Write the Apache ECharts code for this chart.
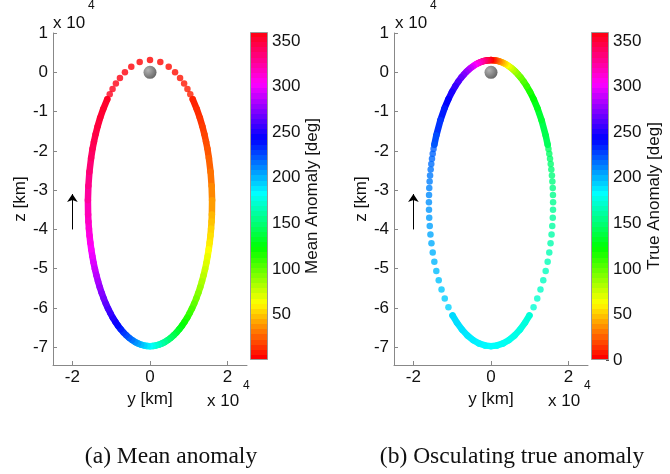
<!DOCTYPE html>
<html>
<head>
<meta charset="utf-8">
<script src="https://cdn.jsdelivr.net/npm/echarts@6/dist/echarts.min.js"></script>
<style>
html,body{margin:0;padding:0;background:#fff;}
#chart{width:670px;height:474px;}
</style>
</head>
<body>
<div id="chart"></div>
<script>
// ---- tick labels ----
const yTicks = [-7, -6, -5, -4, -3, -2, -1, 0, 1];
const xTicks = [-2, 0, 2];
const cbTicksMean = [50, 100, 150, 200, 250, 300, 350];
const cbTicksTrue = [0, 50, 100, 150, 200, 250, 300, 350];

// ---- positions in units of 1e4 km: [y, z, anomaly deg] ----
const earthPos = [[0, 0]];
const arrowPath = [[-2, -4], [-2, -3.1]];

// (a) mean anomaly: separated dots near perigee
const meanDots = [
  [0, 0.31, 0], [0.266, 0.259, 1], [0.482, 0.141, 2], [0.646, 0.000, 3], [0.775, -0.146, 4],
  [0.879, -0.288, 5], [0.965, -0.427, 6], [1.038, -0.560, 7], [1.101, -0.688, 8],
  [-0.266, 0.259, 359], [-0.482, 0.141, 358], [-0.646, 0.000, 357], [-0.775, -0.146, 356],
  [-0.879, -0.288, 355], [-0.965, -0.427, 354], [-1.038, -0.560, 353], [-1.101, -0.688, 352]
];
// (a) mean anomaly: dense (continuous) part of the track
const meanBand = [
  [1.101, -0.688, 8], [1.204, -0.932, 10], [1.284, -1.158, 12], [1.349, -1.373, 14], [1.401, -1.573, 16],
  [1.444, -1.764, 18], [1.480, -1.946, 20], [1.518, -2.182, 23], [1.561, -2.533, 27], [1.588, -2.891, 32],
  [1.600, -3.254, 37], [1.595, -3.618, 43], [1.587, -3.799, 46], [1.574, -3.979, 50], [1.558, -4.157, 53],
  [1.538, -4.333, 56], [1.514, -4.507, 60], [1.486, -4.678, 64], [1.455, -4.845, 68], [1.420, -5.008, 72],
  [1.381, -5.168, 76], [1.339, -5.322, 80], [1.294, -5.472, 84], [1.245, -5.617, 89], [1.193, -5.755, 93],
  [1.138, -5.888, 98], [1.081, -6.014, 103], [1.020, -6.134, 107], [0.958, -6.246, 112], [0.892, -6.351, 117],
  [0.825, -6.449, 122], [0.755, -6.539, 127], [0.684, -6.621, 133], [0.611, -6.694, 138], [0.536, -6.760, 143],
  [0.460, -6.816, 148], [0.383, -6.864, 154], [0.305, -6.903, 159], [0.226, -6.934, 165], [0.146, -6.955, 170],
  [0.067, -6.967, 175], [0, -6.970, 180],
  [-0.067, -6.967, 185], [-0.146, -6.955, 190], [-0.226, -6.934, 195], [-0.305, -6.903, 201], [-0.383, -6.864, 206],
  [-0.460, -6.816, 212], [-0.536, -6.760, 217], [-0.611, -6.694, 222], [-0.684, -6.621, 227], [-0.755, -6.539, 233],
  [-0.825, -6.449, 238], [-0.892, -6.351, 243], [-0.958, -6.246, 248], [-1.020, -6.134, 253], [-1.081, -6.014, 257],
  [-1.138, -5.888, 262], [-1.193, -5.755, 267], [-1.245, -5.617, 271], [-1.294, -5.472, 276], [-1.339, -5.322, 280],
  [-1.381, -5.168, 284], [-1.420, -5.008, 288], [-1.455, -4.845, 292], [-1.486, -4.678, 296], [-1.514, -4.507, 300],
  [-1.538, -4.333, 304], [-1.558, -4.157, 307], [-1.574, -3.979, 310], [-1.587, -3.799, 314], [-1.595, -3.618, 317],
  [-1.600, -3.254, 323], [-1.588, -2.891, 328], [-1.561, -2.533, 333], [-1.518, -2.182, 337], [-1.480, -1.946, 340],
  [-1.444, -1.764, 342], [-1.401, -1.573, 344], [-1.349, -1.373, 346], [-1.284, -1.158, 348], [-1.204, -0.932, 350],
  [-1.101, -0.688, 352]
];

// (b) osculating true anomaly: separated dots on both sides
const trueDots = [
  [0.991, -6.188, 170.9], [1.097, -5.980, 169.6], [1.192, -5.759, 168.3], [1.275, -5.530, 167.0], [1.347, -5.294, 165.7],
  [1.409, -5.057, 164.4], [1.460, -4.819, 163.1], [1.502, -4.584, 161.8], [1.535, -4.354, 160.5], [1.561, -4.129, 159.2],
  [1.579, -3.911, 157.9], [1.592, -3.701, 156.6], [1.598, -3.500, 155.3], [1.600, -3.307, 154.0], [1.597, -3.123, 152.7],
  [1.591, -2.948, 151.4], [1.582, -2.782, 150.1], [1.570, -2.624, 148.8], [1.555, -2.475, 147.5], [1.539, -2.334, 146.2],
  [1.521, -2.200, 144.9], [1.502, -2.074, 143.6], [1.481, -1.955, 142.3], [1.460, -1.842, 141.0],
  [-0.991, -6.188, 189.1], [-1.097, -5.980, 190.4], [-1.192, -5.759, 191.7], [-1.275, -5.530, 193.0], [-1.347, -5.294, 194.3],
  [-1.409, -5.057, 195.6], [-1.460, -4.819, 196.9], [-1.502, -4.584, 198.2], [-1.535, -4.354, 199.5], [-1.561, -4.129, 200.8],
  [-1.579, -3.911, 202.1], [-1.592, -3.701, 203.4], [-1.598, -3.500, 204.7], [-1.600, -3.307, 206.0], [-1.597, -3.123, 207.3],
  [-1.591, -2.948, 208.6], [-1.582, -2.782, 209.9], [-1.570, -2.624, 211.2], [-1.555, -2.475, 212.5], [-1.539, -2.334, 213.8],
  [-1.521, -2.200, 215.1], [-1.502, -2.074, 216.4], [-1.481, -1.955, 217.7], [-1.460, -1.842, 219.0]
];
// (b) dense part near apogee
const trueBandBottom = [
  [0.991, -6.188, 170.9], [0.874, -6.379, 172.2], [0.746, -6.550, 173.5], [0.610, -6.696, 174.8], [0.465, -6.813, 176.1],
  [0.313, -6.900, 177.4], [0.158, -6.952, 178.7], [0, -6.970, 180], [-0.158, -6.952, 181.3], [-0.313, -6.900, 182.6],
  [-0.465, -6.813, 183.9], [-0.610, -6.696, 185.2], [-0.746, -6.550, 186.5], [-0.874, -6.379, 187.8], [-0.991, -6.188, 189.1]
];
// (b) dense part around perigee
const trueBandTop = [
  [1.460, -1.842, 141], [1.409, -1.606, 138], [1.303, -1.217, 132], [1.198, -0.917, 126], [1.098, -0.683, 120],
  [1.005, -0.498, 114], [0.919, -0.350, 108], [0.839, -0.231, 102], [0.766, -0.134, 96], [0.697, -0.054, 90],
  [0.634, 0.012, 84], [0.575, 0.067, 78], [0.519, 0.113, 72], [0.466, 0.152, 66], [0.417, 0.185, 60],
  [0.369, 0.212, 54], [0.323, 0.235, 48], [0.280, 0.254, 42], [0.237, 0.270, 36], [0.196, 0.283, 30],
  [0.156, 0.293, 24], [0.116, 0.300, 18], [0.077, 0.306, 12], [0.038, 0.309, 6], [0, 0.310, 0],
  [-0.038, 0.309, 354], [-0.077, 0.306, 348], [-0.116, 0.300, 342], [-0.156, 0.293, 336], [-0.196, 0.283, 330],
  [-0.237, 0.270, 324], [-0.280, 0.254, 318], [-0.323, 0.235, 312], [-0.369, 0.212, 306], [-0.417, 0.185, 300],
  [-0.466, 0.152, 294], [-0.519, 0.113, 288], [-0.575, 0.067, 282], [-0.634, 0.012, 276], [-0.697, -0.054, 270],
  [-0.766, -0.134, 264], [-0.839, -0.231, 258], [-0.919, -0.350, 252], [-1.005, -0.498, 246], [-1.098, -0.683, 240],
  [-1.198, -0.917, 234], [-1.303, -1.217, 228], [-1.409, -1.606, 222], [-1.460, -1.842, 219]
];

// ---- styling helpers ----
const FONT = "'Liberation Sans', Arial, Helvetica, sans-serif";
const SERIF = "'Liberation Serif', 'Times New Roman', serif";
const FS = 17;
const hsvStops = ['#ff0000', '#ffff00', '#00ff00', '#00ffff', '#0000ff', '#ff00ff', '#ff0000'];

function hsvColor(h) {
  h = ((h % 360) + 360) % 360;
  const x = 1 - Math.abs((h / 60) % 2 - 1);
  let r, g, b;
  if (h < 60) [r, g, b] = [1, x, 0];
  else if (h < 120) [r, g, b] = [x, 1, 0];
  else if (h < 180) [r, g, b] = [0, 1, x];
  else if (h < 240) [r, g, b] = [0, x, 1];
  else if (h < 300) [r, g, b] = [x, 0, 1];
  else [r, g, b] = [1, 0, x];
  return 'rgb(' + Math.round(r * 255) + ',' + Math.round(g * 255) + ',' + Math.round(b * 255) + ')';
}
function steppedGradient() {
  const stops = [];
  const n = 64;
  for (let i = 0; i < n; i++) {
    const col = hsvColor(i * 360 / n);
    stops.push({ offset: i / n, color: col });
    stops.push({ offset: (i + 1) / n, color: col });
  }
  return { type: 'linear', x: 0, y: 1, x2: 0, y2: 0, colorStops: stops };
}

const DOT = 6.5;
function bandRenderer(pts) {
  return function (params, api) {
    const i = params.dataIndex;
    if (i >= pts.length - 1) return null;
    const a = api.coord([pts[i][0], pts[i][1]]);
    const b = api.coord([pts[i + 1][0], pts[i + 1][1]]);
    return {
      type: 'line',
      shape: { x1: a[0], y1: a[1], x2: b[0], y2: b[1] },
      style: { stroke: api.visual('color'), lineWidth: DOT, lineCap: 'round' }
    };
  };
}

const earthStyle = {
  color: { type: 'radial', x: 0.35, y: 0.35, r: 0.75,
    colorStops: [{ offset: 0, color: '#a0a0a0' }, { offset: 1, color: '#383838' }] }
};

function mainX(gi) {
  return {
    type: 'value', gridIndex: gi, min: -2.5, max: 2.5,
    name: 'y [km]', nameLocation: 'middle', nameGap: 21,
    nameTextStyle: { fontFamily: FONT, fontSize: FS, color: '#111' },
    axisLine: { show: true, onZero: false, lineStyle: { color: '#888', width: 1 } },
    axisTick: { show: true, inside: true, length: 4, customValues: xTicks, lineStyle: { color: '#888' } },
    axisLabel: { customValues: xTicks, margin: 4, fontFamily: FONT, fontSize: FS, color: '#111' },
    splitLine: { show: false }
  };
}
function mainY(gi) {
  return {
    type: 'value', gridIndex: gi, min: -7.45, max: 1,
    name: 'z [km]', nameLocation: 'middle', nameRotate: 90, nameGap: 23,
    nameTextStyle: { fontFamily: FONT, fontSize: FS, color: '#111' },
    axisLine: { show: true, onZero: false, lineStyle: { color: '#888', width: 1 } },
    axisTick: { show: true, inside: true, length: 4, customValues: yTicks, lineStyle: { color: '#888' } },
    axisLabel: { customValues: yTicks, margin: 5, fontFamily: FONT, fontSize: FS, color: '#111' },
    splitLine: { show: false }
  };
}
function cbY(gi, title, ticks, gap) {
  return {
    type: 'value', gridIndex: gi, min: 0, max: 360, position: 'right',
    name: title, nameLocation: 'middle', nameRotate: 90, nameGap: gap,
    nameTextStyle: { fontFamily: FONT, fontSize: FS, color: '#111' },
    axisLine: { show: false },
    axisTick: { show: true, inside: true, length: 3, customValues: ticks, lineStyle: { color: '#555' } },
    axisLabel: { customValues: ticks, margin: 4, fontFamily: FONT, fontSize: FS, color: '#111' },
    splitLine: { show: false }
  };
}

const txt = (left, top, text, size) => ({
  type: 'text', left: left, top: top,
  style: { text: text, fontFamily: FONT, fontSize: size, fill: '#111' }
});
const caption = (cx, cy, text) => ({
  type: 'text', x: cx, y: cy,
  style: { text: text, fontFamily: SERIF, fontSize: 23.5, fill: '#111',
    textAlign: 'center', textVerticalAlign: 'middle', align: 'center', verticalAlign: 'middle' }
});

const chart = echarts.init(document.getElementById('chart'), null, { renderer: 'canvas' });

chart.setOption({
  animation: false,
  backgroundColor: '#fff',
  grid: [
    { left: 53, top: 33, width: 194, height: 332 },
    { left: 394, top: 33, width: 194, height: 332 },
    { left: 250, top: 32, width: 18, height: 328 },
    { left: 591, top: 32, width: 18, height: 328 }
  ],
  xAxis: [
    mainX(0), mainX(1),
    { type: 'category', gridIndex: 2, data: ['cb'], show: false },
    { type: 'category', gridIndex: 3, data: ['cb'], show: false }
  ],
  yAxis: [
    mainY(0), mainY(1),
    cbY(2, 'Mean Anomaly [deg]', cbTicksMean, 35.5),
    cbY(3, 'True Anomaly [deg]', cbTicksTrue, 36.5)
  ],
  visualMap: {
    type: 'continuous', show: false, min: 0, max: 360, dimension: 2,
    seriesIndex: [0, 1, 4, 5, 6],
    inRange: { color: hsvStops }
  },
  graphic: [
    txt(53, 15, 'x 10', FS), txt(88, 0, '4', 12),
    txt(207, 393, 'x 10', FS), txt(243, 380, '4', 12),
    txt(395, 15, 'x 10', FS), txt(430, 0, '4', 12),
    txt(548, 393, 'x 10', FS), txt(584, 380, '4', 12),
    caption(171, 457, '(a) Mean anomaly'),
    caption(512, 457, '(b) Osculating true anomaly')
  ],
  series: [
    { type: 'custom', xAxisIndex: 0, yAxisIndex: 0, renderItem: bandRenderer(meanBand), data: meanBand,
      encode: { x: 0, y: 1 }, clip: false, z: 2 },
    { type: 'scatter', xAxisIndex: 0, yAxisIndex: 0, data: meanDots, symbolSize: DOT, z: 3 },
    { type: 'scatter', xAxisIndex: 0, yAxisIndex: 0, data: earthPos, symbolSize: 13, itemStyle: earthStyle, z: 5 },
    { type: 'lines', coordinateSystem: 'cartesian2d', xAxisIndex: 0, yAxisIndex: 0,
      data: [{ coords: arrowPath }], symbol: ['none', 'arrow'], symbolSize: [5, 8],
      lineStyle: { color: '#000', width: 1, opacity: 1 }, z: 5 },
    { type: 'custom', xAxisIndex: 1, yAxisIndex: 1, renderItem: bandRenderer(trueBandBottom), data: trueBandBottom,
      encode: { x: 0, y: 1 }, clip: false, z: 2 },
    { type: 'custom', xAxisIndex: 1, yAxisIndex: 1, renderItem: bandRenderer(trueBandTop), data: trueBandTop,
      encode: { x: 0, y: 1 }, clip: false, z: 2 },
    { type: 'scatter', xAxisIndex: 1, yAxisIndex: 1, data: trueDots, symbolSize: DOT, z: 3 },
    { type: 'scatter', xAxisIndex: 1, yAxisIndex: 1, data: earthPos, symbolSize: 13, itemStyle: earthStyle, z: 5 },
    { type: 'lines', coordinateSystem: 'cartesian2d', xAxisIndex: 1, yAxisIndex: 1,
      data: [{ coords: arrowPath }], symbol: ['none', 'arrow'], symbolSize: [5, 8],
      lineStyle: { color: '#000', width: 1, opacity: 1 }, z: 5 },
    { type: 'bar', xAxisIndex: 2, yAxisIndex: 2, data: [360], barWidth: '100%',
      itemStyle: { color: steppedGradient(), borderColor: '#999', borderWidth: 1 }, silent: true },
    { type: 'bar', xAxisIndex: 3, yAxisIndex: 3, data: [360], barWidth: '100%',
      itemStyle: { color: steppedGradient(), borderColor: '#999', borderWidth: 1 }, silent: true }
  ]
});
</script>
</body>
</html>
